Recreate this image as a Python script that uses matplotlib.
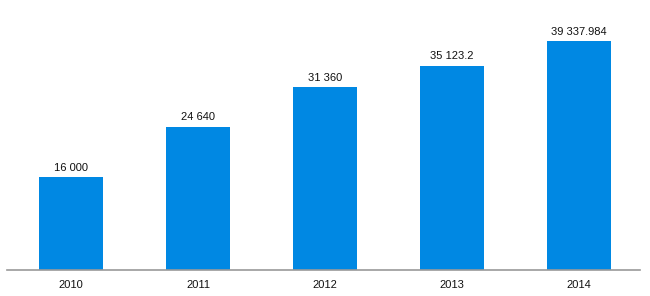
import matplotlib
matplotlib.use('Agg')
import matplotlib.pyplot as plt

years = ['2010', '2011', '2012', '2013', '2014']
values = [16000, 24640, 31360, 35123.2, 39337.984]

plt.rcParams['font.family'] = ['Liberation Sans', 'DejaVu Sans']


def fmt(v):
    if v == int(v):
        v = int(v)
    return f'{v:,}'.replace(',', ' ')


fig = plt.figure(figsize=(6.5, 2.96), dpi=100)
ax = fig.add_axes([7 / 650, 26 / 296, 633 / 650, 229 / 296])

x = list(range(len(years)))
ax.bar(x, values, width=0.504, color='#0088e3')

for i, v in enumerate(values):
    ax.text(i, v + 700, fmt(v), ha='center', va='bottom', fontsize=8,
            color='#111111', clip_on=False)

ax.set_xlim(-0.504, 4.48)
ax.set_ylim(0, max(values))
ax.set_xticks(x)
ax.set_xticklabels(years, fontsize=8, color='#111111')
ax.tick_params(axis='x', length=0, pad=7)
ax.set_yticks([])

for s in ['top', 'right', 'left']:
    ax.spines[s].set_visible(False)
ax.spines['bottom'].set_color('#999999')
ax.spines['bottom'].set_linewidth(1.2)

fig.savefig('out.png', dpi=100)
